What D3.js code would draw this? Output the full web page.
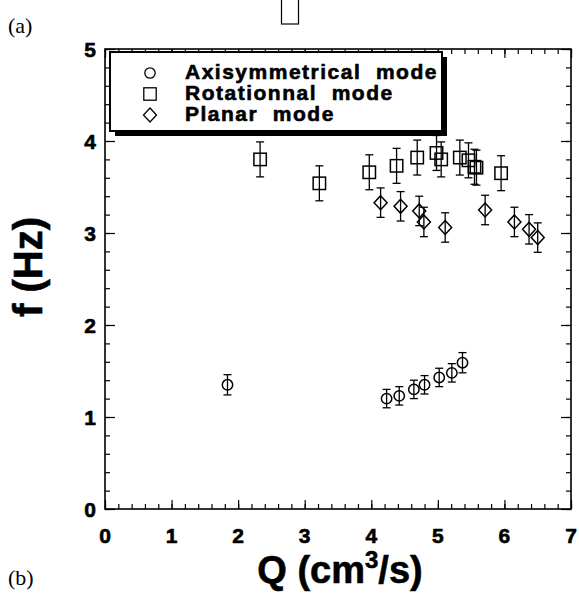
<!DOCTYPE html>
<html lang="en">
<head>
<meta charset="utf-8">
<title>f vs Q</title>
<style>
  body { margin: 0; background: #fff; }
  svg { display: block; }
  .lbl { font-family: "Liberation Sans", Arial, sans-serif; font-weight: bold; fill: #000; stroke: #000; stroke-width: 0.6; }
  .serif { font-family: "Liberation Serif", "DejaVu Serif", serif; fill: #000; }
</style>
</head>
<body>
<script src="https://cdn.jsdelivr.net/npm/d3@7/dist/d3.min.js"></script>
<script>
// data
const circleQ = [1.84, 4.23, 4.42, 4.64, 4.80, 5.02, 5.21, 5.37];
const circleF = [1.35, 1.20, 1.23, 1.30, 1.35, 1.43, 1.48, 1.59];
const circleErr = [0.11, 0.10, 0.10, 0.10, 0.10, 0.10, 0.10, 0.11];

const squareQ = [2.33, 3.22, 3.97, 4.38, 4.69, 4.98, 5.05, 5.33, 5.46, 5.55, 5.58, 5.95];
const squareF = [3.80, 3.54, 3.66, 3.73, 3.82, 3.87, 3.80, 3.82, 3.79, 3.72, 3.71, 3.65];
const squareErr = [0.19, 0.19, 0.19, 0.19, 0.19, 0.19, 0.19, 0.19, 0.19, 0.19, 0.19, 0.19];

const diamondQ = [4.14, 4.44, 4.72, 4.79, 5.11, 5.71, 6.15, 6.37, 6.50];
const diamondF = [3.33, 3.29, 3.24, 3.12, 3.06, 3.25, 3.12, 3.04, 2.95];
const diamondErr = [0.16, 0.16, 0.16, 0.16, 0.16, 0.16, 0.16, 0.16, 0.16];

const legendLabels = ["Axisymmetrical  mode", "Rotationnal  mode", "Planar  mode"];
const xTicks = [0, 1, 2, 3, 4, 5, 6, 7];
const yTicks = [0, 1, 2, 3, 4, 5];

const W = 579, H = 597;
const pLeft = 105, pRight = 571, pTop = 49, pBottom = 509;

const x = d3.scaleLinear().domain([0, 7]).range([pLeft, pRight]);
const y = d3.scaleLinear().domain([0, 5]).range([pBottom, pTop]);

const svg = d3.select("body").append("svg")
    .attr("width", W).attr("height", H);

// stray box from the figure above
svg.append("rect")
    .attr("x", 281.5).attr("y", -3).attr("width", 17).attr("height", 27)
    .attr("fill", "none").attr("stroke", "#000").attr("stroke-width", 1.2);

// ticks (inward) on all four sides
function addAxis(axisFn, scale, tr, values, size) {
    svg.append("g")
        .attr("transform", tr)
        .call(axisFn(scale).tickValues(values).tickSize(size).tickFormat(""))
        .call(g => g.select(".domain").remove())
        .selectAll("line").attr("stroke", "#000").attr("stroke-width", 1.2);
}
const xMinor = d3.range(0, 7.001, 0.2);
const yMinor = d3.range(0, 5.001, 0.2);
addAxis(d3.axisBottom, x, `translate(0,${pBottom})`, xMinor, -5);
addAxis(d3.axisBottom, x, `translate(0,${pBottom})`, xTicks, -9);
addAxis(d3.axisTop, x, `translate(0,${pTop})`, xMinor, -5);
addAxis(d3.axisTop, x, `translate(0,${pTop})`, xTicks, -9);
addAxis(d3.axisLeft, y, `translate(${pLeft},0)`, yMinor, -5);
addAxis(d3.axisLeft, y, `translate(${pLeft},0)`, yTicks, -10);
addAxis(d3.axisRight, y, `translate(${pRight},0)`, yMinor, -5);
addAxis(d3.axisRight, y, `translate(${pRight},0)`, yTicks, -10);

svg.append("rect")
    .attr("x", pLeft).attr("y", pTop)
    .attr("width", pRight - pLeft).attr("height", pBottom - pTop)
    .attr("fill", "none").attr("stroke", "#000").attr("stroke-width", 1.6);

// tick labels
svg.append("g").selectAll("text").data(xTicks).join("text")
    .attr("class", "lbl")
    .attr("x", d => x(d)).attr("y", pBottom + 34)
    .attr("text-anchor", "middle")
    .attr("font-size", 21)
    .text(d => d);

svg.append("g").selectAll("text").data(yTicks).join("text")
    .attr("class", "lbl")
    .attr("x", pLeft - 9).attr("y", d => y(d) + 8)
    .attr("text-anchor", "end")
    .attr("font-size", 21)
    .text(d => d);

// axis titles
const xt = svg.append("text")
    .attr("class", "lbl")
    .attr("x", 340).attr("y", 583)
    .attr("text-anchor", "middle")
    .attr("font-size", 38);
xt.append("tspan").text("Q (cm");
xt.append("tspan").attr("font-size", 24).attr("dy", -15).text("3");
xt.append("tspan").attr("dy", 15).text("/s)");

svg.append("text")
    .attr("class", "lbl")
    .attr("transform", `translate(42,267) rotate(-90)`)
    .attr("text-anchor", "middle")
    .attr("font-size", 40)
    .text("f (Hz)");

svg.append("text").attr("class", "serif")
    .attr("x", 8).attr("y", 33).attr("font-size", 22).text("(a)");
svg.append("text").attr("class", "serif")
    .attr("x", 8).attr("y", 585).attr("font-size", 22).text("(b)");

// error bars + markers
function errorBars(qs, fs, es) {
    const g = svg.append("g").attr("stroke", "#000").attr("stroke-width", 1.3).attr("fill", "none");
    qs.forEach((q, i) => {
        const cx = x(q), y1 = y(fs[i] + es[i]), y2 = y(fs[i] - es[i]);
        g.append("line").attr("x1", cx).attr("x2", cx).attr("y1", y1).attr("y2", y2);
        g.append("line").attr("x1", cx - 4).attr("x2", cx + 4).attr("y1", y1).attr("y2", y1);
        g.append("line").attr("x1", cx - 4).attr("x2", cx + 4).attr("y1", y2).attr("y2", y2);
    });
}
errorBars(circleQ, circleF, circleErr);
errorBars(squareQ, squareF, squareErr);
errorBars(diamondQ, diamondF, diamondErr);

function marker(g, kind, cx, cy) {
    if (kind === "circle") {
        g.append("circle").attr("cx", cx).attr("cy", cy).attr("r", 5.2);
    } else if (kind === "square") {
        g.append("rect").attr("x", cx - 6.2).attr("y", cy - 6.2).attr("width", 12.4).attr("height", 12.4);
    } else {
        g.append("path").attr("d", `M${cx},${cy - 7}L${cx + 6.5},${cy}L${cx},${cy + 7}L${cx - 6.5},${cy}Z`);
    }
}
const mk = svg.append("g").attr("stroke", "#000").attr("stroke-width", 1.5).attr("fill", "none");
circleQ.forEach((q, i) => marker(mk, "circle", x(q), y(circleF[i])));
squareQ.forEach((q, i) => marker(mk, "square", x(q), y(squareF[i])));
diamondQ.forEach((q, i) => marker(mk, "diamond", x(q), y(diamondF[i])));

// legend with drop shadow
const lg = svg.append("g");
lg.append("rect").attr("x", 115).attr("y", 57).attr("width", 332).attr("height", 79).attr("fill", "#000");
lg.append("rect").attr("x", 110).attr("y", 52).attr("width", 332).attr("height", 79)
    .attr("fill", "#fff").attr("stroke", "#000").attr("stroke-width", 2);
const kinds = ["circle", "square", "diamond"];
const lm = lg.append("g").attr("stroke", "#000").attr("stroke-width", 1.3).attr("fill", "none");
kinds.forEach((k, i) => marker(lm, k, 150, 73 + i * 21));
lg.selectAll("text.leg").data(legendLabels).join("text")
    .attr("class", "lbl leg")
    .attr("x", 185).attr("y", (d, i) => 79 + i * 21)
    .attr("font-size", 21)
    .attr("letter-spacing", 1.5)
    .style("white-space", "pre")
    .text(d => d);
</script>
</body>
</html>
